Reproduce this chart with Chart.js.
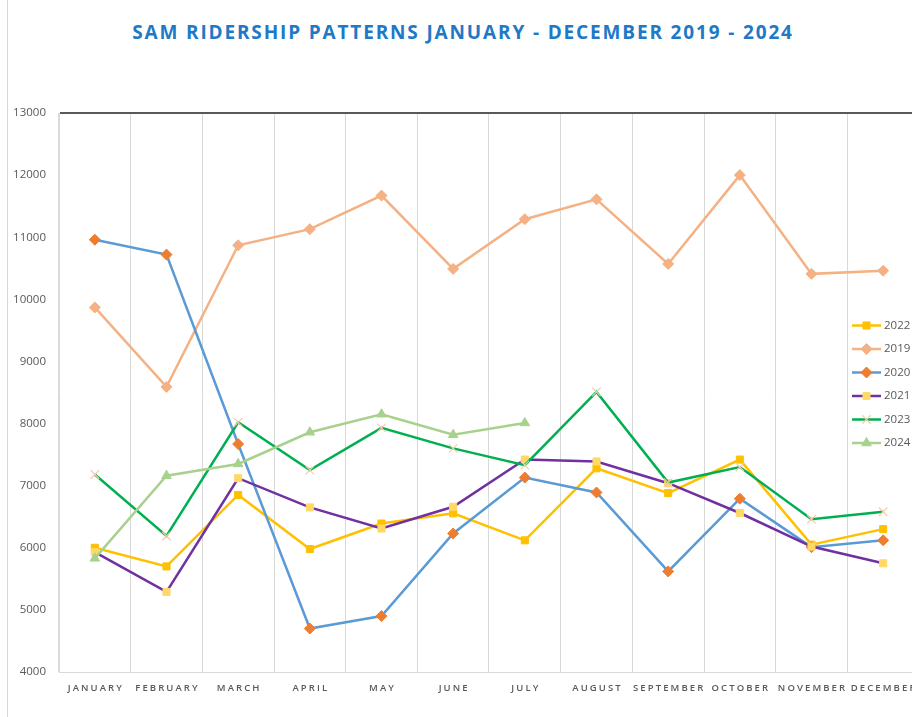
<!DOCTYPE html>
<html lang="en">
<head>
  <meta charset="UTF-8">
  <title>SAM Ridership Patterns</title>
  <script src="https://cdn.jsdelivr.net/npm/chart.js"></script>
  <style>
    html, body { margin: 0; padding: 0; background: #fff; overflow: hidden; width: 912px; height: 717px; }
    #frame { position: absolute; left: 7px; top: 0; width: 1px; height: 717px; background: #d9d9d9; }
    #title {
      position: absolute; left: 0; top: 19px; width: 926px; text-align: center;
      font-family: "Open Sans", sans-serif; font-weight: bold; font-size: 19px;
      letter-spacing: 1.85px; color: #2079c7; margin: 0;
    }
    #chart { position: absolute; left: 0; top: 0; }
  </style>
</head>
<body>
  <div id="frame"></div>
  <h1 id="title">SAM RIDERSHIP PATTERNS JANUARY - DECEMBER 2019 - 2024</h1>
  <canvas id="chart" width="930" height="717"></canvas>

  <script>
    const months = ['JANUARY', 'FEBRUARY', 'MARCH', 'APRIL', 'MAY', 'JUNE', 'JULY',
                    'AUGUST', 'SEPTEMBER', 'OCTOBER', 'NOVEMBER', 'DECEMBER'];
    const seriesNames = ['2022', '2019', '2020', '2021', '2023', '2024'];

    const rides2022 = [6000, 5700, 6850, 5980, 6390, 6555, 6120, 7280, 6880, 7420, 6050, 6300];
    const rides2019 = [9870, 8590, 10870, 11130, 11670, 10490, 11290, 11610, 10570, 12000, 10410, 10460];
    const rides2020 = [10960, 10720, 7670, 4700, 4900, 6230, 7130, 6890, 5620, 6790, 6010, 6120];
    const rides2021 = [5930, 5290, 7120, 6650, 6310, 6660, 7420, 7390, 7040, 6560, 6020, 5750];
    const rides2023 = [7180, 6190, 8020, 7250, 7930, 7600, 7330, 8510, 7050, 7300, 6460, 6580];
    const rides2024 = [5830, 7160, 7350, 7860, 8150, 7820, 8010, null, null, null, null, null];

    const yMin = 4000, yMax = 13000, yStep = 1000;

    function series(label, data, line, marker, style, size, idx) {
      return {
        label: label,
        data: data,
        borderColor: line,
        backgroundColor: marker,
        pointBackgroundColor: marker,
        pointBorderColor: marker,
        pointStyle: style,
        pointRadius: size,
        pointBorderWidth: style === 'crossRot' ? 1.2 : 1,
        borderWidth: 2.5,
        tension: 0,
        spanGaps: false,
        order: -idx
      };
    }

    // legend drawn over the plot, like the original
    const sideLegend = {
      id: 'sideLegend',
      afterDraw(chart) {
        const ctx = chart.ctx;
        const x0 = 852, x1 = 881, top = 325.5, gap = 23.5;
        ctx.save();
        chart.data.datasets.forEach((ds, i) => {
          const y = top + i * gap;
          ctx.strokeStyle = ds.borderColor;
          ctx.lineWidth = 2.5;
          ctx.beginPath();
          ctx.moveTo(x0, y);
          ctx.lineTo(x1, y);
          ctx.stroke();
          ctx.fillStyle = ds.pointBackgroundColor;
          ctx.strokeStyle = ds.pointBorderColor;
          ctx.lineWidth = ds.pointBorderWidth;
          if (Chart.helpers && Chart.helpers.drawPoint) {
            Chart.helpers.drawPoint(ctx, { pointStyle: ds.pointStyle, radius: ds.pointRadius, borderWidth: ds.pointBorderWidth, rotation: 0 }, (x0 + x1) / 2, y);
          }
          ctx.fillStyle = '#595959';
          ctx.font = '11.5px "Open Sans", sans-serif';
          ctx.textAlign = 'left';
          ctx.textBaseline = 'middle';
          ctx.fillText(ds.label, 884, y);
        });
        ctx.restore();
      }
    };

    // month labels with wide letter spacing
    const monthLabels = {
      id: 'monthLabels',
      afterDraw(chart) {
        const ctx = chart.ctx;
        const xs = chart.scales.x;
        ctx.save();
        ctx.fillStyle = '#595959';
        ctx.font = '600 9.5px "Open Sans", sans-serif';
        ctx.letterSpacing = '2.1px';
        ctx.textAlign = 'center';
        ctx.textBaseline = 'middle';
        months.forEach((m, i) => {
          ctx.fillText(m, xs.getPixelForTick(i) + 1, chart.chartArea.bottom + 16);
        });
        ctx.restore();
      }
    };

    const ctx = document.getElementById('chart').getContext('2d');
    new Chart(ctx, {
      type: 'line',
      data: {
        labels: months,
        datasets: [
          series(seriesNames[0], rides2022, '#ffc000', '#ffc000', 'rect', 5, 0),
          series(seriesNames[1], rides2019, '#f4b183', '#f4b183', 'rectRot', 5.5, 1),
          series(seriesNames[2], rides2020, '#5b9bd5', '#ed7d31', 'rectRot', 5.5, 2),
          series(seriesNames[3], rides2021, '#7030a0', '#ffd966', 'rect', 5, 3),
          series(seriesNames[4], rides2023, '#00b050', '#f8cbad', 'crossRot', 6, 4),
          series(seriesNames[5], rides2024, '#a9d18e', '#a9d18e', 'triangle', 5.5, 5)
        ]
      },
      options: {
        responsive: false,
        animation: false,
        layout: { padding: { top: 113, right: 11, bottom: 45, left: 0 } },
        plugins: {
          legend: { display: false },
          title: { display: false },
          tooltip: { enabled: false }
        },
        scales: {
          x: {
            offset: true,
            grid: { offset: true, color: '#d9d9d9', lineWidth: 1, drawTicks: false },
            border: { color: '#d9d9d9', width: 1 },
            ticks: { display: false },
            afterFit(scale) { scale.height = 0; }
          },
          y: {
            min: yMin,
            max: yMax,
            grid: {
              drawTicks: false,
              color: c => (c.tick && c.tick.value === yMax) ? '#595959' : 'rgba(0,0,0,0)',
              lineWidth: c => (c.tick && c.tick.value === yMax) ? 2 : 0
            },
            border: { color: '#d9d9d9', width: 1 },
            ticks: {
              stepSize: yStep,
              padding: 13,
              color: '#595959',
              font: { family: '"Open Sans", sans-serif', size: 11.5 },
              callback: v => String(v)
            },
            afterFit(scale) { scale.width = 59; }
          }
        }
      },
      plugins: [sideLegend, monthLabels]
    });
  </script>
</body>
</html>
